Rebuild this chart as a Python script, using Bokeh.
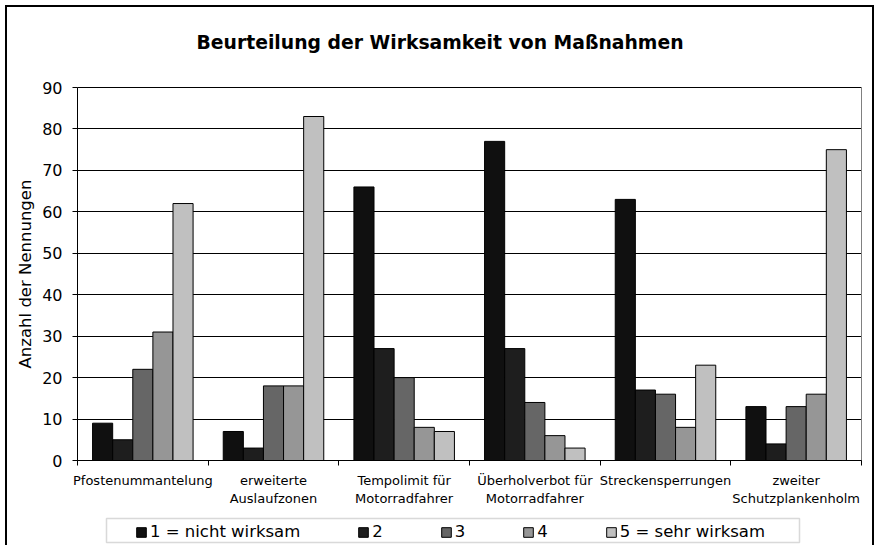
from bokeh.plotting import figure
from bokeh.models import FixedTicker, Legend, LegendItem, Label, BoxAnnotation, Range1d
from bokeh.embed import file_html
from bokeh.resources import INLINE

# ---------------- data ----------------
categories = [
    "Pfostenummantelung",
    "erweiterte\nAuslaufzonen",
    "Tempolimit für\nMotorradfahrer",
    "Überholverbot für\nMotorradfahrer",
    "Streckensperrungen",
    "zweiter\nSchutzplankenholm",
]
series_names = ["1 = nicht wirksam", "2", "3", "4", "5 = sehr wirksam"]
s1 = [9, 7, 66, 77, 63, 13]
s2 = [5, 3, 27, 27, 17, 4]
s3 = [22, 18, 20, 14, 16, 13]
s4 = [31, 18, 8, 6, 8, 16]
s5 = [62, 83, 7, 3, 23, 75]
series = [s1, s2, s3, s4, s5]
colors = ["#101010", "#1e1e1e", "#666666", "#969696", "#c0c0c0"]
y_min, y_max = 0, 90
y_ticks = list(range(y_min, y_max + 10, 10))
title_text = "Beurteilung der Wirksamkeit von Maßnahmen"
y_label = "Anzahl der Nennungen"

FONT = "DejaVu Sans"

# ---------------- layout (pixels) ----------------
W, H = 865, 538            # figure size; placed at page (7, 7) by margin
ML, MT = 7, 7
PLOT_L, PLOT_R = 77, 861   # plot area in page px
Y_TOP_PX, Y_ZERO_PX = 87, 460
ncat = len(categories)
kx = (PLOT_R - PLOT_L) / ncat
ky = (Y_ZERO_PX - Y_TOP_PX) / (y_max - y_min)
FR_L, FR_B = ML, MT + H    # frame = whole canvas (page px)
x_lo = 0 - (PLOT_L - ML) / kx
x_hi = ncat + (ML + W - PLOT_R) / kx
y_lo = y_min - (FR_B - Y_ZERO_PX) / ky
y_hi = y_max + (Y_TOP_PX - MT) / ky

p = figure(width=W, height=H, output_backend="svg", toolbar_location=None,
           x_range=Range1d(x_lo, x_hi), y_range=Range1d(y_lo, y_hi),
           min_border=0, min_border_left=0, min_border_right=0,
           min_border_top=0, min_border_bottom=0,
           margin=(MT, 0, 0, ML))
p.background_fill_color = "white"
p.border_fill_color = "white"
p.outline_line_color = None
p.styles = {"outline": "2.5px solid black"}

# x axis at y = 0: labels at category centres, ticks at category boundaries
centers = [i + 0.5 for i in range(ncat)]
p.xaxis.fixed_location = 0
p.xaxis.bounds = (0, ncat)
p.xaxis.ticker = FixedTicker(ticks=centers, minor_ticks=list(range(ncat + 1)))
p.xaxis.major_label_overrides = {c: lab for c, lab in zip(centers, categories)}
p.xaxis.major_tick_out = 0
p.xaxis.major_tick_in = 0
p.xaxis.minor_tick_out = 5
p.xaxis.minor_tick_in = 0
p.xaxis.minor_tick_line_color = "black"
p.xaxis.axis_line_color = "black"
p.xaxis.major_label_standoff = 7
p.xaxis.major_label_text_font = FONT
p.xaxis.major_label_text_font_size = "13px"
p.xaxis.major_label_text_color = "black"
p.xaxis.major_label_text_line_height = 1.2

# y axis at x = 0 (only from 0 to 90)
p.yaxis.fixed_location = 0
p.yaxis.bounds = (y_min, y_max)
p.yaxis.ticker = FixedTicker(ticks=y_ticks, minor_ticks=[])
p.yaxis.major_tick_out = 5
p.yaxis.major_tick_in = 0
p.yaxis.minor_tick_out = 0
p.yaxis.minor_tick_in = 0
p.yaxis.axis_line_color = "black"
p.yaxis.major_tick_line_color = "black"
p.yaxis.major_label_standoff = 10
p.yaxis.major_label_text_font = FONT
p.yaxis.major_label_text_font_size = "16px"
p.yaxis.major_label_text_color = "black"
p.yaxis.axis_label = y_label
p.yaxis.axis_label_text_font = FONT
p.yaxis.axis_label_text_font_size = "16.5px"
p.yaxis.axis_label_text_font_style = "normal"
p.yaxis.axis_label_text_color = "black"
p.yaxis.axis_label_standoff = 4

p.xgrid.visible = False
p.ygrid.ticker = FixedTicker(ticks=y_ticks, minor_ticks=[])
p.ygrid.cross_bounds = (0, ncat)
p.ygrid.grid_line_color = "black"
p.ygrid.grid_line_width = 1

# right border of the plot area
p.segment(x0=[ncat], y0=[y_min], x1=[ncat], y1=[y_max],
          line_color="#808080", line_width=1)

# ---------------- bars ----------------
n = len(series)
bw = 1.0 / (n + 1.5)
items = []
for kk, (vals, col, name) in enumerate(zip(series, colors, series_names)):
    xs = [c + (kk - (n - 1) / 2) * bw for c in centers]
    r = p.vbar(x=xs, top=vals, bottom=0, width=bw, fill_color=col,
               line_color="black", line_width=1)
    items.append(LegendItem(label=name, renderers=[r]))

# ---------------- legend ----------------
LEG_L, LEG_R, LEG_T, LEG_B = 106, 799, 518, 542
p.add_layout(BoxAnnotation(left=LEG_L - FR_L, right=LEG_R - FR_L,
                           top=FR_B - LEG_T, bottom=FR_B - LEG_B,
                           left_units="screen", right_units="screen",
                           top_units="screen", bottom_units="screen",
                           fill_color="white", fill_alpha=1,
                           line_color="#808080", line_width=1.5))
legend = Legend(items=items, orientation="horizontal",
                location=(135 - FR_L, FR_B - 541),
                border_line_color=None, background_fill_alpha=0,
                glyph_width=12, glyph_height=12, label_standoff=3, spacing=57,
                label_width=0, padding=0, margin=0,
                label_text_font=FONT, label_text_font_size="16.5px",
                label_text_color="black")
p.add_layout(legend, "center")

# ---------------- title ----------------
p.add_layout(Label(x=439.5 - FR_L, y=FR_B - 42,
                   x_units="screen", y_units="screen",
                   text=title_text, text_align="center", text_baseline="middle",
                   text_font=FONT, text_font_size="18.8px", text_font_style="bold",
                   text_color="black"))

open("out.html", "w").write(file_html(p, INLINE))
